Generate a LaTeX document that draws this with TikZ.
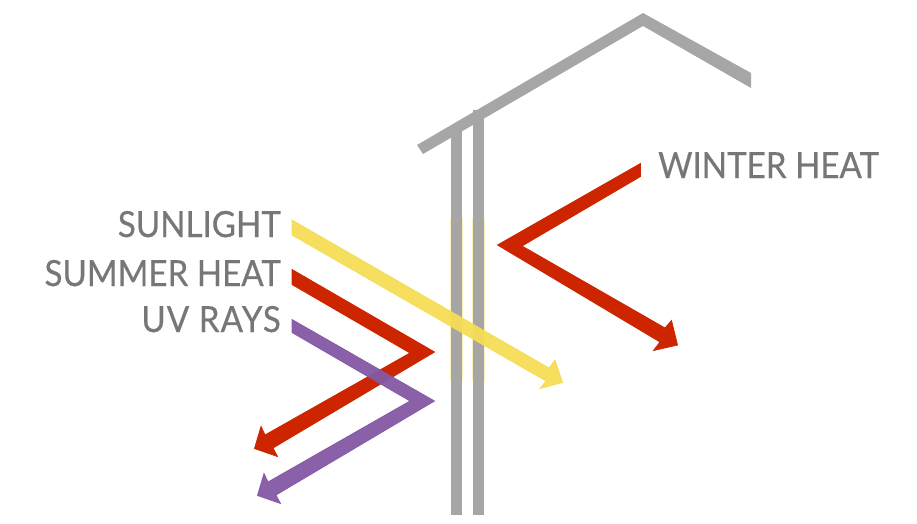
\documentclass[tikz,border=0pt]{standalone}
\usepackage{fontspec}
\setmainfont[FakeStretch=0.92,FakeBold=0.5]{Lato}
\definecolor{wallgray}{HTML}{A6A6A6}
\definecolor{sunyellow}{HTML}{F6DC55}
\definecolor{heatred}{HTML}{CC2500}
\definecolor{uvpurple}{HTML}{8459A3}
\definecolor{txtgray}{HTML}{777777}
\tikzset{
  wallpart/.style={fill=wallgray,draw=none},
  sunband/.style={fill=sunyellow,draw=sunyellow,line width=.8pt},
  heatband/.style={fill=heatred,draw=heatred,line width=.8pt},
  uvband/.style={fill=uvpurple,draw=uvpurple,line width=.8pt},
  lbl/.style={text=txtgray,font=\fontsize{36}{36}\selectfont,inner sep=0pt,anchor=base east}
}
\begin{document}
\begin{tikzpicture}[x=1pt,y=-1pt]
\useasboundingbox (0,0) rectangle (917,524);
% walls
\fill[sunyellow!40] (450,218) rectangle (463,381);
\fill[sunyellow!40] (472,218) rectangle (485,381);
\fill[wallpart] (451,128) rectangle (462,515);
\fill[wallpart] (473,110) rectangle (484,515);
% roof
\fill[wallpart] (417,145) -- (643,13) -- (751,73) -- (751,88) -- (643,26) -- (423,154) -- cycle;
% sunlight
\path[sunband,opacity=.95] (292,220) -- (549,368) -- (555,360) -- (562.5,382.5) -- (540,388.5) -- (546,381) -- (292,235) -- cycle;
% summer heat
\path[heatband] (292,269.5) -- (434.5,352) -- (273,448) -- (277.5,456.5) -- (254.5,448.5) -- (261,426.5) -- (265,435) -- (410,353) -- (292,284.5) -- cycle;
% uv
\path[uvband,opacity=.95] (292,319.5) -- (434.5,401) -- (276,495) -- (280.5,503.5) -- (257.5,495.5) -- (264,473.5) -- (268,482) -- (410,401) -- (292,332.5) -- cycle;
% winter
\path[heatband] (640.5,163.5) -- (640.5,176.5) -- (522,246) -- (665,328) -- (671.5,320.5) -- (677.5,345) -- (653.5,350.5) -- (660,342) -- (497.5,245) -- cycle;
\node[lbl] (sun) at (281,237) {SUNLIGHT};
\node[lbl] (summer) at (281,286) {SUMMER HEAT};
\node[lbl] (uv) at (281,332) {\addfontfeature{LetterSpace=3}UV RAYS};
\node[lbl,anchor=base west] (winter) at (658,178) {WINTER HEAT};
\end{tikzpicture}
\end{document}
